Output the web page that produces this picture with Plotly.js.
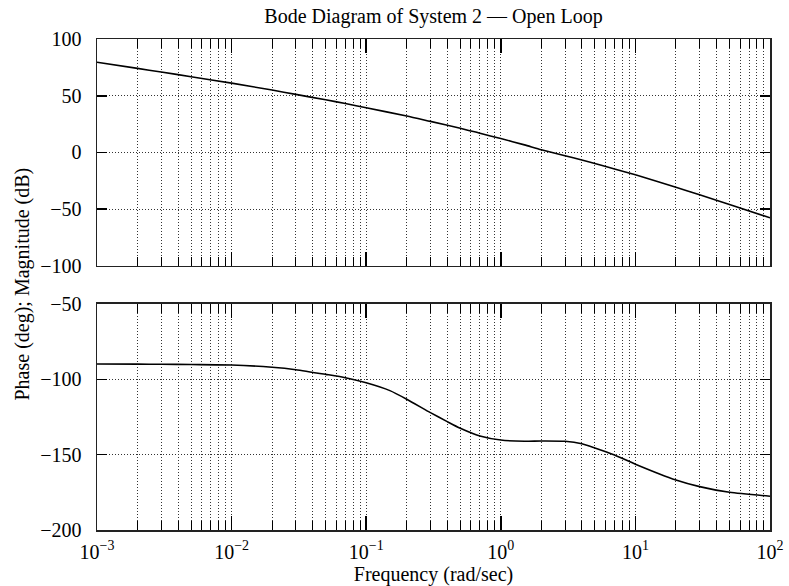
<!DOCTYPE html>
<html><head><meta charset="utf-8">
<script src="https://cdn.plot.ly/plotly-3.0.1.min.js"></script>
<style>
html,body{margin:0;padding:0;background:#fff;font-family:"Liberation Serif",serif}
#chart{width:789px;height:586px}
</style>
</head><body><div id="chart"></div>
<script>
// Magnitude curve: frequency (rad/sec) and magnitude (dB)
const magFrequency = [0.001, 0.002, 0.003, 0.005, 0.01, 0.02, 0.03, 0.05, 0.07, 0.1, 0.2, 0.3, 0.5, 0.7, 1, 1.5, 2, 3, 4, 5, 7, 10, 20, 30, 50, 100];
const magnitudeDb = [79.5, 74.1, 70.9, 66.8, 61.1, 55.0, 51.2, 46.4, 43.2, 39.4, 32.2, 27.4, 21.4, 16.9, 12.3, 6.7, 2.5, -2.8, -6.7, -9.7, -14.6, -19.7, -30.6, -37.3, -45.8, -57.5];
// Phase curve: frequency (rad/sec) and phase (deg)
const phaseFrequency = [0.001, 0.002, 0.003, 0.005, 0.01, 0.02, 0.03, 0.05, 0.07, 0.1, 0.15, 0.2, 0.3, 0.4, 0.5, 0.7, 1, 1.5, 2, 3, 4, 5, 7, 10, 20, 30, 50, 100];
const phaseDeg = [-89.8, -89.9, -90.0, -90.2, -90.5, -92.0, -93.6, -96.7, -98.9, -102.3, -107.5, -113.2, -122.1, -128.1, -132.5, -137.6, -140.3, -141.1, -140.9, -141.1, -142.7, -145.5, -150.2, -156.3, -166.8, -171.2, -175.0, -177.6];

const xTickVals = [0.001, 0.01, 0.1, 1, 10, 100];
const xTickText = ['10<sup>\u22123</sup>', '10<sup>\u22122</sup>', '10<sup>\u22121</sup>', '10<sup>0</sup>', '10<sup>1</sup>', '10<sup>2</sup>'];
const magTicks = [-100, -50, 0, 50, 100];
const phaseTicks = [-200, -150, -100, -50];

const minorVals = [];
for (let e = -3; e < 2; e++) for (let m = 2; m <= 9; m++) minorVals.push(m * Math.pow(10, e));

const FONT = 'Liberation Serif';
const gridDash = '1px,2px';
const gridColor = '#333';

function xAxis(anchor, labels) {
  return {
    type: 'log', range: [-3, 2], anchor: anchor, domain: [0, 1],
    tickmode: 'array', tickvals: xTickVals, ticktext: xTickText,
    showticklabels: labels,
    ticks: 'inside', ticklen: 14, tickwidth: 1.5, tickcolor: '#000',
    showline: true, linecolor: '#222', linewidth: 1.5, mirror: 'ticks',
    showgrid: true, gridcolor: gridColor, gridwidth: 1, griddash: gridDash,
    zeroline: false,
    tickfont: {family: FONT, size: 20, color: '#000'},
    ticklabelstandoff: 3,
    minor: {
      tickmode: 'array', tickvals: minorVals,
      ticks: 'inside', ticklen: 9, tickwidth: 1, tickcolor: '#000',
      showgrid: true, gridcolor: gridColor, gridwidth: 1, griddash: gridDash
    }
  };
}
function yAxis(anchor, domain, range, ticks) {
  return {
    anchor: anchor, domain: domain, range: range,
    tickmode: 'array', tickvals: ticks,
    ticks: 'inside', ticklen: 10, tickwidth: 1.5, tickcolor: '#000',
    showline: true, linecolor: '#222', linewidth: 1.5, mirror: 'ticks',
    showgrid: true, gridcolor: gridColor, gridwidth: 1, griddash: gridDash,
    zeroline: false,
    tickfont: {family: FONT, size: 20, color: '#000'},
    ticklabelstandoff: 10
  };
}

const traces = [
  {x: magFrequency, y: magnitudeDb, xaxis: 'x', yaxis: 'y', type: 'scatter', mode: 'lines',
   line: {color: '#000', width: 1.6, shape: 'spline', smoothing: 0.6}, showlegend: false},
  {x: phaseFrequency, y: phaseDeg, xaxis: 'x2', yaxis: 'y2', type: 'scatter', mode: 'lines',
   line: {color: '#000', width: 1.6, shape: 'spline', smoothing: 0.6}, showlegend: false}
];

const x2 = xAxis('y2', true);
x2.matches = 'x';
x2.title = {text: 'Frequency (rad/sec)', font: {family: FONT, size: 20, color: '#000'}, standoff: 8};

const layout = {
  width: 789, height: 586,
  margin: {l: 97, r: 19, t: 39, b: 56},
  paper_bgcolor: '#fff', plot_bgcolor: '#fff',
  font: {family: FONT, color: '#000', size: 20},
  title: {text: 'Bode Diagram of System 2 \u2014 Open Loop', font: {family: FONT, size: 20, color: '#000'},
          x: 0.5, xref: 'paper', y: 1 - 16 / 586, yref: 'container', yanchor: 'middle'},
  xaxis: xAxis('y', false),
  xaxis2: x2,
  yaxis: yAxis('x', [0.5377, 1], [-100, 100], magTicks),
  yaxis2: yAxis('x2', [0, 0.4603], [-200, -50], phaseTicks),
  annotations: [{
    text: 'Phase (deg); Magnitude (dB)', textangle: -90,
    xref: 'paper', yref: 'paper', x: (22 - 97) / 673, y: 0.5,
    xanchor: 'center', yanchor: 'middle', showarrow: false,
    font: {family: FONT, size: 20, color: '#000'}
  }]
};

Plotly.newPlot('chart', traces, layout, {staticPlot: true, displayModeBar: false});
</script>
</body></html>
